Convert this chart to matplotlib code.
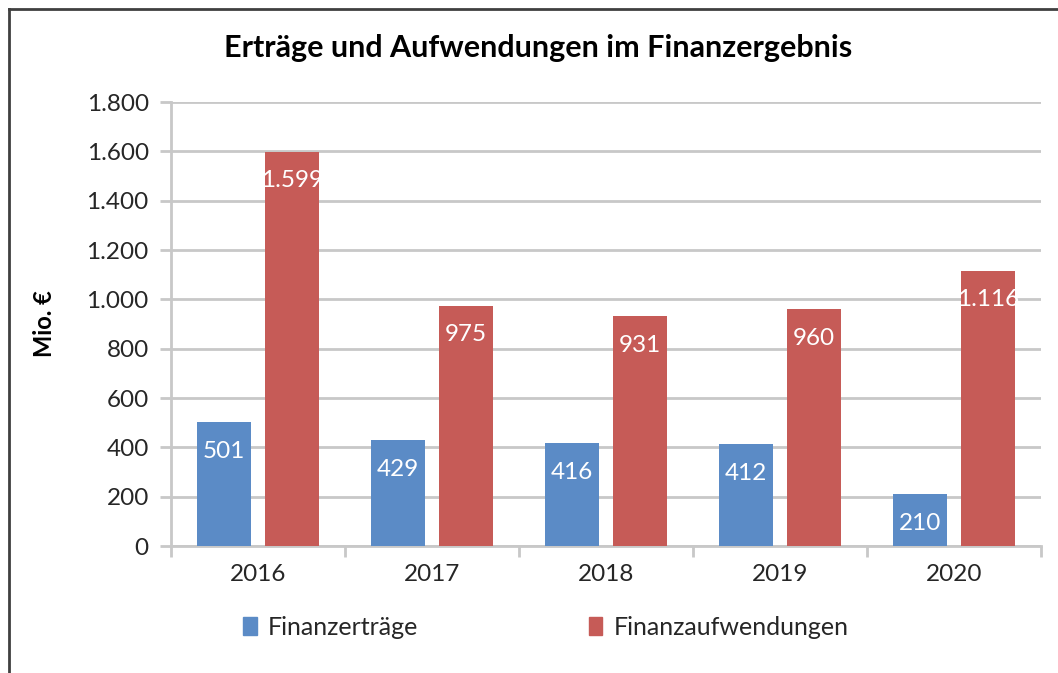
import matplotlib.pyplot as plt
import numpy as np
from matplotlib.lines import Line2D
from matplotlib.patches import Patch

plt.rcParams['font.family'] = ['Lato', 'DejaVu Sans']

years = ["2016", "2017", "2018", "2019", "2020"]
ertraege = [501, 429, 416, 412, 210]
aufwendungen = [1599, 975, 931, 960, 1116]
label_ertraege = "Finanzerträge"
label_aufwendungen = "Finanzaufwendungen"

blue = "#5B8BC6"
red = "#C65B57"
grid_col = "#C8C8C8"
text_col = "#262626"


def fmt(v):
    # German thousands separator
    return f"{v:,}".replace(",", ".")


fig = plt.figure(figsize=(10.58, 6.73), dpi=100)
ax = fig.add_axes([0.1616, 0.1887, 0.8223, 0.6597])

x = np.arange(len(years))
w = 0.31
off = 0.197
b1 = ax.bar(x - off, ertraege, w, color=blue, zorder=3)
b2 = ax.bar(x + off, aufwendungen, w, color=red, zorder=3)

# data labels inside the bar tops
for bars, vals in ((b1, ertraege), (b2, aufwendungen)):
    for rect, v in zip(bars, vals):
        ax.annotate(fmt(v), (rect.get_x() + rect.get_width() / 2, v),
                    xytext=(0, -21), textcoords="offset points",
                    ha="center", va="center", color="white", fontsize=17.5, zorder=4)

ax.set_xlim(-0.5, len(years) - 0.5)
ax.set_ylim(0, 1800)
ax.set_yticks(np.arange(0, 1801, 200))
ax.set_yticklabels([fmt(t) for t in range(0, 1801, 200)])
ax.yaxis.grid(True, color=grid_col, linewidth=2, zorder=0)

# category labels centered, ticks on the boundaries
ax.set_xticks(np.arange(-0.5, len(years)), minor=False)
ax.set_xticklabels([])
ax.set_xticks(x, minor=True)
ax.set_xticklabels(years, minor=True)
ax.tick_params(axis="x", which="major", length=8, width=2, color=grid_col, direction="out")
ax.tick_params(axis="x", which="minor", length=0, pad=13, labelsize=17.5, labelcolor=text_col)
ax.tick_params(axis="y", length=8, width=2, color=grid_col, pad=8, labelsize=17.5, labelcolor=text_col)

for s in ("top", "right"):
    ax.spines[s].set_visible(False)
for s in ("left", "bottom"):
    ax.spines[s].set_color(grid_col)
    ax.spines[s].set_linewidth(2)

ax.set_ylabel("Mio. €", fontsize=17, fontweight="bold", color="black")
ax.yaxis.set_label_coords(-0.132, 0.5)

fig.text(0.509, 0.928, "Erträge und Aufwendungen im Finanzergebnis",
         ha="center", va="center", fontsize=22, fontweight="bold", color="black")

handles = [Patch(color=blue), Patch(color=red)]
fig.legend(handles, [label_ertraege, label_aufwendungen], loc="center",
           bbox_to_anchor=(0.516, 0.068), ncol=2, frameon=False, fontsize=18,
           handlelength=0.55, handleheight=0.75, handletextpad=0.45, columnspacing=6.8,
           labelcolor=text_col)

# chart border (top and left edges visible in the crop)
fig.add_artist(Line2D([0.0085, 1.0], [0.987, 0.987], color="#404040", linewidth=2))
fig.add_artist(Line2D([0.0085, 0.0085], [0.0, 0.987], color="#404040", linewidth=2))

fig.savefig("out.png", dpi=100)
